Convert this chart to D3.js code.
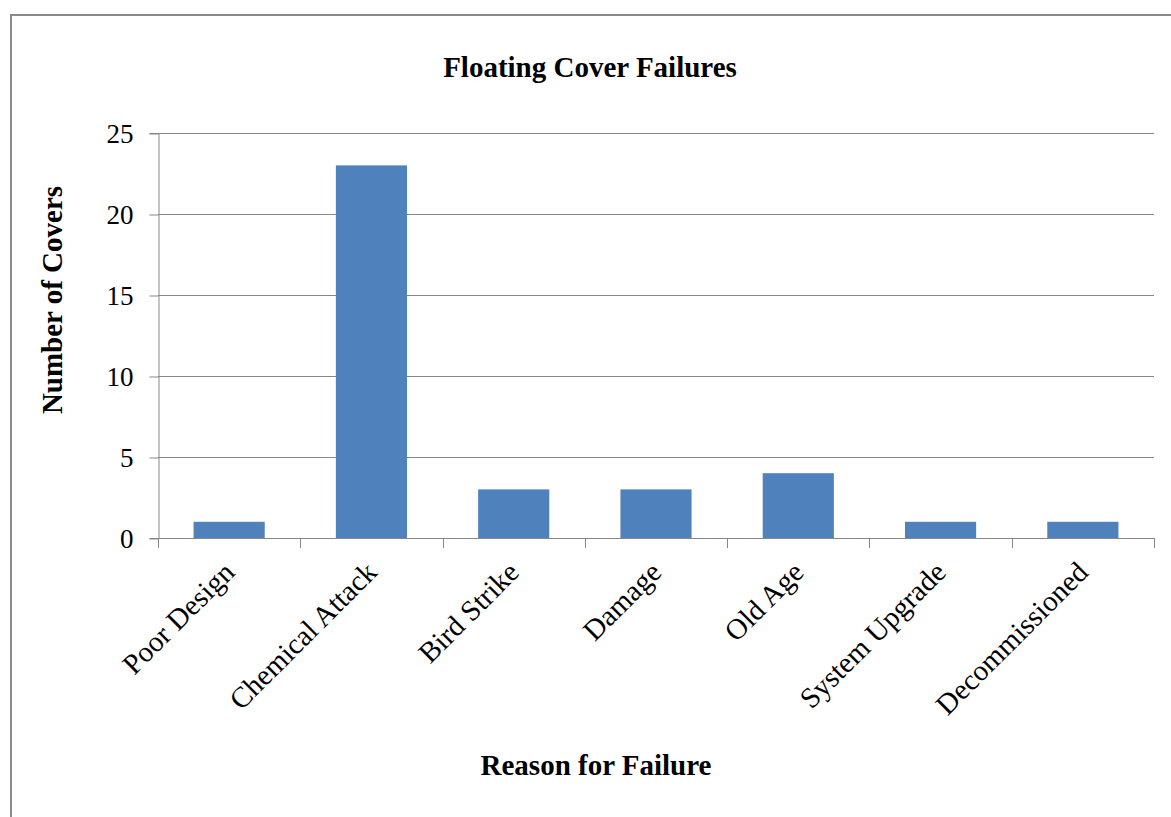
<!DOCTYPE html>
<html>
<head>
<meta charset="utf-8">
<script src="https://cdn.jsdelivr.net/npm/d3@7"></script>
<style>
  html, body { margin: 0; padding: 0; background: #fff; }
  svg { display: block; font-family: "Liberation Serif", "Times New Roman", serif; }
</style>
</head>
<body>
<svg id="chart" width="1171" height="817"></svg>
<script>
// Reasons a floating cover was taken out of service, with counts
const categories = ["Poor Design", "Chemical Attack", "Bird Strike", "Damage", "Old Age", "System Upgrade", "Decommissioned"];
const counts = [1, 23, 3, 3, 4, 1, 1];
const yTicks = [0, 5, 10, 15, 20, 25];

const chartTitle = "Floating Cover Failures";
const xTitle = "Reason for Failure";
const yTitle = "Number of Covers";

const svg = d3.select("#chart");
const W = 1171, H = 817;
const plot = { left: 158, right: 1154, top: 133, bottom: 538 };
const gridColor = "#878787";
const barColor = "#4F81BD";

// Outer chart frame (runs past the right and bottom edges of the page)
svg.append("rect")
  .attr("x", 11).attr("y", 15)
  .attr("width", W + 20).attr("height", H + 20)
  .attr("fill", "#fff")
  .attr("stroke", "#8a8a8a").attr("stroke-width", 2);

const x = d3.scaleBand()
  .domain(categories)
  .range([plot.left, plot.right])
  .paddingInner(0).paddingOuter(0);

const y = d3.scaleLinear()
  .domain([0, 25])
  .range([plot.bottom, plot.top]);

// Horizontal gridlines
svg.append("g")
  .selectAll("line")
  .data(yTicks.filter(d => d > 0))
  .join("line")
  .attr("x1", plot.left).attr("x2", plot.right)
  .attr("y1", d => Math.round(y(d)) + 0.5).attr("y2", d => Math.round(y(d)) + 0.5)
  .attr("stroke", gridColor).attr("stroke-width", 1);

// Bars: half of each category slot, centred
const barW = x.bandwidth() * 0.5;
svg.append("g")
  .selectAll("rect")
  .data(categories.map((c, i) => ({ c, v: counts[i] })))
  .join("rect")
  .attr("x", d => x(d.c) + (x.bandwidth() - barW) / 2)
  .attr("width", barW)
  .attr("y", d => y(d.v))
  .attr("height", d => y(0) - y(d.v))
  .attr("fill", barColor);

// Y axis
const yAxis = svg.append("g")
  .attr("transform", `translate(${plot.left + 0.5},0)`)
  .call(d3.axisLeft(y).tickValues(yTicks).tickSize(9).tickPadding(16).tickFormat(d3.format("d")));
yAxis.select(".domain").attr("stroke", gridColor);
yAxis.selectAll(".tick line").attr("stroke", gridColor)
  .attr("transform", "translate(0,0.5)");
yAxis.selectAll(".tick text")
  .attr("font-family", "Liberation Serif, Times New Roman, serif")
  .attr("font-size", 27).attr("fill", "#000")
  .attr("dy", "0.34em");

// X axis: line along zero, ticks at slot boundaries
const xg = svg.append("g");
xg.append("line")
  .attr("x1", plot.left).attr("x2", plot.right)
  .attr("y1", Math.round(y(0)) + 0.5).attr("y2", Math.round(y(0)) + 0.5)
  .attr("stroke", gridColor);
const bounds = categories.map(c => x(c)).concat([x.range()[1]]);
xg.selectAll("line.tick")
  .data(bounds)
  .join("line")
  .attr("class", "tick")
  .attr("x1", d => Math.round(d) + 0.5).attr("x2", d => Math.round(d) + 0.5)
  .attr("y1", y(0)).attr("y2", y(0) + 10)
  .attr("stroke", gridColor);

// Category labels rotated 45 degrees, ending under each slot centre
xg.selectAll("text")
  .data(categories)
  .join("text")
  .attr("transform", d => `translate(${x(d) + x.bandwidth() / 2 + 7},${y(0) + 36}) rotate(-45)`)
  .attr("text-anchor", "end")
  .attr("font-size", 29)
  .attr("fill", "#000")
  .text(d => d);

// Titles
svg.append("text")
  .attr("x", 590).attr("y", 77)
  .attr("text-anchor", "middle")
  .attr("font-size", 29).attr("font-weight", "bold")
  .text(chartTitle);

svg.append("text")
  .attr("x", 596).attr("y", 775)
  .attr("text-anchor", "middle")
  .attr("font-size", 29).attr("font-weight", "bold")
  .text(xTitle);

svg.append("text")
  .attr("transform", "translate(62,300) rotate(-90)")
  .attr("text-anchor", "middle")
  .attr("font-size", 29).attr("font-weight", "bold")
  .text(yTitle);
</script>
</body>
</html>
